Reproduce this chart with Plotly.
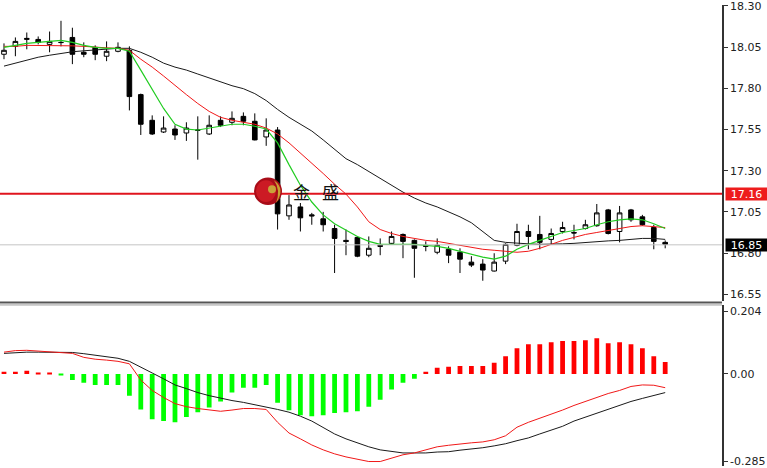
import plotly.graph_objects as go

# ---------------- data ----------------
open_ = [18.007, 18.055, 18.097, 18.097, 18.067, 18.079, 18.109, 18.019, 18.049, 17.995,
         18.025, 18.031, 17.762, 17.606, 17.535, 17.553, 17.529, 17.547, 17.523, 17.606,
         17.594, 17.630, 17.600, 17.505, 17.547, 17.026, 17.080, 17.032, 17.008, 16.949,
         16.877, 16.895, 16.787, 16.847, 16.859, 16.913, 16.877, 16.847, 16.805, 16.823,
         16.805, 16.745, 16.733, 16.691, 16.751, 16.847, 16.931, 16.913, 16.883, 16.931,
         16.925, 16.949, 16.966, 17.062, 16.931, 17.062, 17.020, 16.955, 16.865]
high = [18.073, 18.109, 18.139, 18.115, 18.145, 18.210, 18.168, 18.079, 18.061, 18.085,
        18.079, 18.055, 17.768, 17.636, 17.630, 17.576, 17.594, 17.630, 17.636, 17.630,
        17.660, 17.654, 17.648, 17.618, 17.565, 17.152, 17.104, 17.044, 17.050, 16.972,
        16.943, 16.901, 16.901, 16.889, 16.931, 16.919, 16.883, 16.871, 16.889, 16.841,
        16.829, 16.781, 16.763, 16.799, 16.859, 16.978, 16.972, 17.026, 16.949, 16.990,
        16.972, 17.002, 17.098, 17.068, 17.086, 17.068, 17.032, 16.972, 16.877]
low = [17.977, 17.995, 18.037, 18.067, 18.019, 18.055, 17.947, 17.989, 17.971, 17.965,
       18.019, 17.666, 17.517, 17.517, 17.529, 17.487, 17.481, 17.367, 17.517, 17.565,
       17.576, 17.576, 17.484, 17.451, 16.943, 17.002, 16.931, 16.972, 16.931, 16.679,
       16.787, 16.775, 16.775, 16.787, 16.853, 16.769, 16.650, 16.811, 16.793, 16.739,
       16.679, 16.715, 16.632, 16.688, 16.733, 16.841, 16.823, 16.823, 16.853, 16.919,
       16.883, 16.943, 16.960, 16.913, 16.865, 16.990, 16.966, 16.823, 16.829]
close = [18.031, 18.085, 18.103, 18.079, 18.085, 18.078, 18.007, 18.007, 18.007, 18.025,
         18.049, 17.750, 17.582, 17.523, 17.559, 17.517, 17.559, 17.546, 17.576, 17.576,
         17.618, 17.600, 17.487, 17.547, 17.038, 17.092, 17.014, 17.026, 16.972, 16.889,
         16.871, 16.781, 16.829, 16.841, 16.901, 16.871, 16.829, 16.841, 16.847, 16.787,
         16.763, 16.727, 16.697, 16.745, 16.853, 16.931, 16.901, 16.865, 16.919, 16.955,
         16.922, 16.972, 17.044, 16.919, 17.044, 17.002, 16.972, 16.871, 16.853]

ma_fast = [18.049, 18.061, 18.073, 18.079, 18.085, 18.091, 18.079, 18.061, 18.049, 18.043,
           18.043, 18.025, 17.911, 17.792, 17.678, 17.582, 17.553, 17.547, 17.559, 17.570,
           17.582, 17.582, 17.570, 17.553, 17.469, 17.337, 17.212, 17.110, 17.032, 16.978,
           16.937, 16.901, 16.871, 16.853, 16.853, 16.853, 16.853, 16.847, 16.841, 16.829,
           16.811, 16.793, 16.775, 16.763, 16.781, 16.823, 16.853, 16.877, 16.901, 16.925,
           16.937, 16.949, 16.972, 16.990, 17.002, 17.008, 17.002, 16.978, 16.949]
ma_mid = [18.055, 18.055, 18.061, 18.061, 18.061, 18.061, 18.058, 18.055, 18.049, 18.046,
          18.043, 18.031, 17.977, 17.929, 17.875, 17.816, 17.762, 17.708, 17.660, 17.624,
          17.606, 17.594, 17.582, 17.559, 17.523, 17.469, 17.409, 17.349, 17.283, 17.218,
          17.158, 17.080, 16.990, 16.943, 16.919, 16.901, 16.889, 16.877, 16.871, 16.859,
          16.847, 16.835, 16.823, 16.817, 16.811, 16.805, 16.811, 16.829, 16.853, 16.877,
          16.895, 16.913, 16.925, 16.937, 16.949, 16.961, 16.966, 16.961, 16.955]
ma_slow = [17.935, 17.953, 17.971, 17.989, 18.001, 18.013, 18.022, 18.028, 18.034, 18.040,
           18.043, 18.043, 18.019, 17.989, 17.953, 17.929, 17.911, 17.887, 17.863, 17.840,
           17.816, 17.798, 17.768, 17.726, 17.672, 17.624, 17.582, 17.541, 17.487, 17.427,
           17.373, 17.337, 17.295, 17.254, 17.212, 17.170, 17.134, 17.104, 17.080, 17.050,
           17.020, 16.984, 16.931, 16.877, 16.865, 16.859, 16.856, 16.853, 16.853, 16.856,
           16.859, 16.865, 16.871, 16.874, 16.877, 16.883, 16.889, 16.889, 16.883]

macd_hist = [0.007, 0.007, 0.010, 0.004, 0.002, -0.002, -0.020, -0.029, -0.036, -0.036,
             -0.036, -0.071, -0.116, -0.148, -0.154, -0.158, -0.141, -0.125, -0.110, -0.090,
             -0.061, -0.045, -0.045, -0.036, -0.094, -0.119, -0.135, -0.138, -0.135, -0.128,
             -0.125, -0.122, -0.107, -0.084, -0.051, -0.029, -0.016, 0.007, 0.020, 0.023,
             0.026, 0.026, 0.026, 0.036, 0.058, 0.084, 0.097, 0.097, 0.103, 0.107,
             0.107, 0.110, 0.116, 0.100, 0.103, 0.097, 0.084, 0.058, 0.039]
macd_black = [0.067, 0.070, 0.071, 0.071, 0.071, 0.071, 0.070, 0.066, 0.061, 0.057,
              0.051, 0.041, 0.023, 0.003, -0.016, -0.036, -0.048, -0.061, -0.071, -0.080,
              -0.087, -0.093, -0.100, -0.107, -0.116, -0.125, -0.138, -0.154, -0.174, -0.196,
              -0.212, -0.225, -0.238, -0.248, -0.254, -0.258, -0.258, -0.258, -0.255, -0.254,
              -0.249, -0.246, -0.241, -0.235, -0.228, -0.218, -0.209, -0.196, -0.184, -0.171,
              -0.154, -0.141, -0.128, -0.116, -0.103, -0.090, -0.080, -0.071, -0.061]
macd_red = [0.071, 0.076, 0.077, 0.074, 0.071, 0.070, 0.067, 0.054, 0.048, 0.045,
            0.041, 0.033, -0.020, -0.054, -0.077, -0.097, -0.107, -0.113, -0.118, -0.122,
            -0.118, -0.113, -0.113, -0.116, -0.158, -0.193, -0.212, -0.232, -0.248, -0.261,
            -0.271, -0.279, -0.286, -0.286, -0.276, -0.264, -0.258, -0.248, -0.238, -0.233,
            -0.228, -0.225, -0.222, -0.215, -0.202, -0.174, -0.158, -0.145, -0.132, -0.118,
            -0.103, -0.090, -0.077, -0.064, -0.054, -0.041, -0.036, -0.037, -0.045]

price_ticks = [16.55, 16.80, 17.05, 17.30, 17.55, 17.80, 18.05, 18.30]
macd_ticks = [0.204, 0.0, -0.285]
macd_tick_text = ["0.204", "0.00", "-0.285"]
resistance = 17.16
last_price = 16.85

x = list(range(len(close)))

W, H = 767, 468
PLOT_W = 722
FONT = "DejaVu Sans"


def px(xp):
    return xp / PLOT_W


def py(yp):
    return 1 - yp / H


fig = go.Figure()

# moving averages (drawn under candles)
fig.add_trace(go.Scatter(x=x, y=ma_slow, mode="lines", line=dict(color="#1a1a1a", width=1),
                         xaxis="x", yaxis="y", hoverinfo="skip"))
fig.add_trace(go.Scatter(x=x, y=ma_mid, mode="lines", line=dict(color="#f01818", width=1),
                         xaxis="x", yaxis="y", hoverinfo="skip"))
fig.add_trace(go.Scatter(x=x, y=ma_fast, mode="lines", line=dict(color="#22cc22", width=1.2),
                         xaxis="x", yaxis="y", hoverinfo="skip"))

fig.add_trace(go.Candlestick(
    x=x, open=open_, high=high, low=low, close=close,
    increasing=dict(fillcolor="white", line=dict(color="black", width=1)),
    decreasing=dict(fillcolor="black", line=dict(color="black", width=1)),
    whiskerwidth=0, xaxis="x", yaxis="y", hoverinfo="skip"))

# horizontal price lines
fig.add_trace(go.Scatter(x=[-1, 70], y=[last_price, last_price], mode="lines",
                         line=dict(color="#c4c4c4", width=1), xaxis="x", yaxis="y",
                         hoverinfo="skip"))
fig.add_trace(go.Scatter(x=[-1, 70], y=[resistance, resistance], mode="lines",
                         line=dict(color="#e0141e", width=2), xaxis="x", yaxis="y",
                         hoverinfo="skip"))

# MACD panel
hist_colors = ["#ff0000" if v >= 0 else "#00ff00" for v in macd_hist]
fig.add_trace(go.Bar(x=x, y=macd_hist, marker=dict(color=hist_colors, line=dict(width=0)),
                     width=0.42, xaxis="x2", yaxis="y2", hoverinfo="skip"))
fig.add_trace(go.Scatter(x=x, y=macd_black, mode="lines", line=dict(color="#1a1a1a", width=1),
                         xaxis="x2", yaxis="y2", hoverinfo="skip"))
fig.add_trace(go.Scatter(x=x, y=macd_red, mode="lines", line=dict(color="#f01818", width=1),
                         xaxis="x2", yaxis="y2", hoverinfo="skip"))

xr = [-0.35, -0.35 + PLOT_W / 11.4]
axis_x = dict(range=xr, showticklabels=False, showgrid=False, zeroline=False,
              showline=False, ticks="", fixedrange=True)

# MACD scale: zero at pixel 374.5, 311 px per unit; panel spans pixels 305..468
macd_top = (374.5 - 305) / 311
macd_bot = (374.5 - 468) / 311

tickfont = dict(family=FONT, size=11, color="#222")

fig.update_layout(
    width=W, height=H,
    margin=dict(l=0, r=W - PLOT_W, t=0, b=0),
    paper_bgcolor="white", plot_bgcolor="white",
    showlegend=False,
    boxgap=0.42,
    xaxis=dict(axis_x, domain=[0, 1], anchor="y", rangeslider=dict(visible=False)),
    xaxis2=dict(axis_x, domain=[0, 1], anchor="y2"),
    yaxis=dict(domain=[py(300), 1], range=[18.306 - 0.00598 * 300, 18.306], side="right",
               anchor="x", tickvals=price_ticks, ticktext=[f"{v:.2f}" for v in price_ticks],
               ticks="outside", ticklen=4, tickcolor="#333", showline=True, linecolor="#333",
               linewidth=1.5, showgrid=False, zeroline=False, ticklabeloverflow="allow",
               tickfont=tickfont),
    yaxis2=dict(domain=[0, py(305)], range=[macd_bot, macd_top], side="right", anchor="x2",
                tickvals=macd_ticks, ticktext=macd_tick_text, ticks="outside", ticklen=4,
                tickcolor="#333", showline=True, linecolor="#333", linewidth=1.5,
                showgrid=False, zeroline=False, ticklabeloverflow="allow",
                tickfont=tickfont),
)

# panel separator
fig.add_shape(type="line", xref="paper", yref="paper", x0=0, x1=1, y0=py(302), y1=py(302),
              line=dict(color="#555", width=2))
fig.add_shape(type="line", xref="paper", yref="paper", x0=0, x1=1, y0=py(304.5), y1=py(304.5),
              line=dict(color="#999", width=1))

# logo
fig.add_shape(type="circle", xref="paper", yref="paper",
              x0=px(254), x1=px(282), y0=py(203), y1=py(175),
              fillcolor="#a80c18", line=dict(width=0))
fig.add_shape(type="circle", xref="paper", yref="paper",
              x0=px(256), x1=px(276), y0=py(200), y1=py(178),
              fillcolor="#cc1a24", line=dict(width=0))
fig.add_shape(type="path", xref="paper", yref="paper",
              path=f"M {px(274)} {py(178)} Q {px(286)} {py(187)} {px(276)} {py(201)} "
                   f"Q {px(281)} {py(188)} {px(274)} {py(178)} Z",
              fillcolor="#c8a030", line=dict(width=0))
fig.add_shape(type="circle", xref="paper", yref="paper",
              x0=px(268), x1=px(276), y0=py(191), y1=py(183),
              fillcolor="#c9a23a", line=dict(width=0))
for ch, cx in [("金", 301), ("盛", 330.5)]:
    fig.add_annotation(x=px(cx), y=py(189), xref="paper", yref="paper", text=ch,
                       showarrow=False, font=dict(family="Noto Sans CJK SC", size=17,
                                                  color="#111"))

# price labels on the axis
for val, bg in [(resistance, "#ee1c1c"), (last_price, "#000000")]:
    fig.add_annotation(x=1 + 3 / PLOT_W, y=val, xref="paper", yref="y", xanchor="left",
                       text=f"{val:.2f}", showarrow=False, bgcolor=bg, width=41, height=12,
                       borderpad=0, font=dict(family=FONT, size=11, color="white"))

fig.write_html("out.html", config={"displayModeBar": False},
               post_script="document.body.style.margin='0';"
                           "document.body.style.padding='0';")
